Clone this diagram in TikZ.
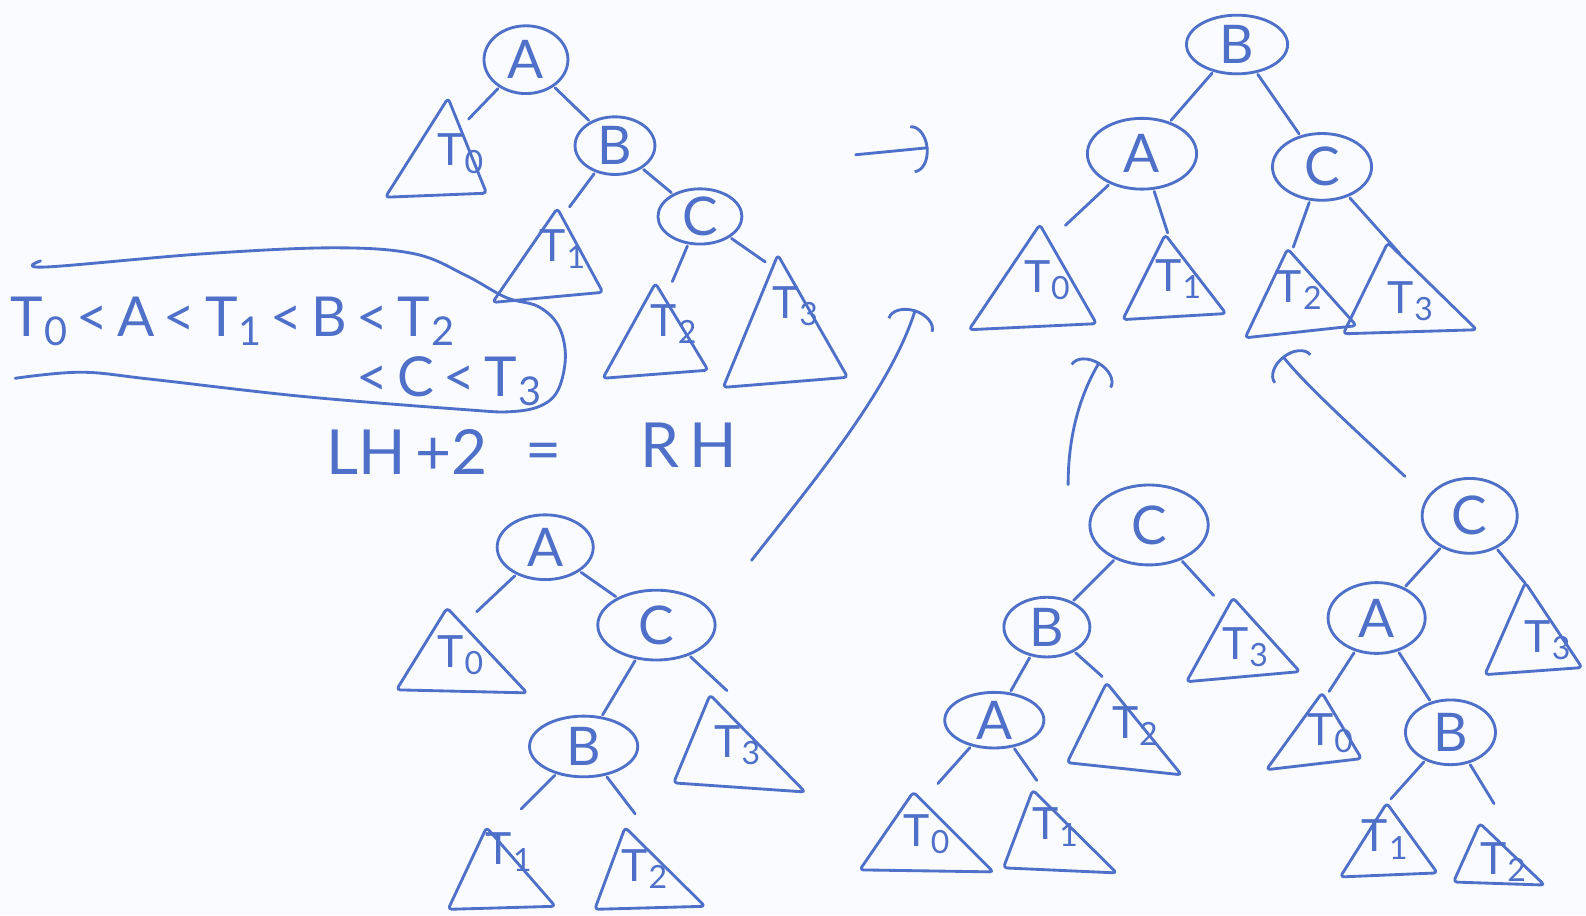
\documentclass[tikz,border=0pt]{standalone}
\usepackage{fontspec}
\usepackage{graphicx}
\setmainfont{Lato}
\usetikzlibrary{shapes.geometric,arrows.meta}
\definecolor{inkc}{RGB}{78,112,200}
\definecolor{paperc}{RGB}{250,251,254}
\newcommand\Tn[1]{T\kern0.02em\raisebox{-0.16em}{\scalebox{0.72}{#1}}}
\newcommand\mktri[6]{%
  \coordinate (#1) at #2;
  \draw[inkline,rounded corners=2pt] (#1) -- #3 -- #4 -- cycle;
  \node[tlab] (#1-l) at #5 {#6};}
\tikzset{
  inkline/.style={draw=inkc,line width=1.6pt,line cap=round,line join=round},
  ell/.style 2 args={ellipse,draw=inkc,line width=1.6pt,minimum width=#1*0.02cm,
    minimum height=#2*0.02cm,inner sep=0pt,font=\fontsize{30}{34}\selectfont,text=inkc},
  tlab/.style={font=\fontsize{25}{30}\selectfont,text=inkc,inner sep=0pt},
  big/.style={font=\fontsize{31}{36}\selectfont,text=inkc,inner sep=0pt},
  edge/.style={inkline,shorten <=1pt,shorten >=1pt},
  arr/.style={inkline,-{Arc Barb[length=0.32cm,width=0.95cm]}}
}
\begin{document}
\begin{tikzpicture}[x=0.02cm,y=-0.02cm]
\fill[paperc] (0,0) rectangle (1568,905);
\useasboundingbox (0,0) rectangle (1568,905);

% ---------- top-left tree ----------
\node[ell={83}{67}] (tlA) at (520,59) {A};
\node[ell={79}{57}] (tlB) at (608,144) {B};
\node[ell={83}{52}] (tlC) at (692,214) {C};
\mktri{tlT0}{(443,97)}{(381,195)}{(481,191)}{(455,152)}{\Tn0}
\mktri{tlT1}{(551,206)}{(487,299)}{(596,289)}{(556,246)}{\Tn1}
\mktri{tlT2}{(648,280)}{(596,374)}{(700,366)}{(666,320)}{\Tn2}
\mktri{tlT3}{(769,252)}{(715,383)}{(838,373)}{(786,303)}{\Tn3}
\coordinate (tle0) at (462,119);
\coordinate (tle1) at (562,206);
\coordinate (tle2) at (664,280);
\coordinate (tle3) at (758,260);
\draw[edge] (tlA) -- (tle0);
\draw[edge] (tlA) -- (tlB);
\draw[edge] (tlB) -- (tle1);
\draw[edge] (tlB) -- (tlC);
\draw[edge] (tlC) -- (tle2);
\draw[edge] (tlC) -- (tle3);

% ---------- inequality outline ----------
\draw[inkline] plot[smooth,tension=0.6] coordinates {(40,258) (45,264) (200,251) (330,245) (410,251) (460,272) (500,294) (532,303) (552,322) (559,352) (552,385) (535,401) (505,407) (460,405) (300,392) (150,375) (80,368) (15,374)};
\node[big,anchor=west] (ineq1) at (10,318) {\Tn0\,<\,A\,<\,\Tn1\,<\,B\,<\,\Tn2};
\node[big,anchor=west] (ineq2) at (352,377) {<\,C\,<\,\Tn3};
\node[big,anchor=west,font=\fontsize{35}{40}\selectfont] (lh) at (322,447) {LH\,+2};
\node[big,font=\fontsize{35}{40}\selectfont] (eq) at (537,452) {=};
\node[big,font=\fontsize{35}{40}\selectfont] (rh) at (681,440) {R\,H};

% ---------- arrow ----------
\coordinate (a1s) at (846,153);
\coordinate (a1e) at (918,146);
\draw[arr] (a1s) -- (a1e);

% ---------- top-right tree ----------
\node[ell={100}{58}] (trB) at (1223,44) {B};
\node[ell={108}{70}] (trA) at (1129,152) {A};
\node[ell={98}{66}] (trC) at (1307,165) {C};
\mktri{trT0}{(1028,222)}{(958,326)}{(1084,320)}{(1035,277)}{\Tn0}
\mktri{trT1}{(1152,232)}{(1110,316)}{(1212,310)}{(1165,276)}{\Tn1}
\mktri{trT2}{(1273,246)}{(1231,334)}{(1341,322)}{(1284,287)}{\Tn2}
\mktri{trT3}{(1372,240)}{(1328,330)}{(1460,326)}{(1394,298)}{\Tn3}
\coordinate (tre0) at (1052,224);
\coordinate (tre1) at (1155,232);
\coordinate (tre2) at (1278,246);
\coordinate (tre3) at (1385,252);
\draw[edge] (trB) -- (trA);
\draw[edge] (trB) -- (trC);
\draw[edge] (trA) -- (tre0);
\draw[edge] (trA) -- (tre1);
\draw[edge] (trC) -- (tre2);
\draw[edge] (trC) -- (tre3);

% ---------- bottom-left tree ----------
\node[ell={95}{64}] (blA) at (539,541) {A};
\node[ell={116}{69}] (blC) at (649,618) {C};
\node[ell={107}{60}] (blB) at (577,738) {B};
\mktri{blT0}{(442,601)}{(392,682)}{(521,685)}{(455,648)}{\Tn0}
\mktri{blT3}{(702,687)}{(666,774)}{(796,783)}{(729,737)}{\Tn3}
\mktri{blT1}{(481,818)}{(443,899)}{(549,896)}{(503,842)}{\Tn1}
\mktri{blT2}{(618,818)}{(588,899)}{(697,896)}{(637,859)}{\Tn2}
\coordinate (ble0) at (470,606);
\coordinate (ble3) at (720,684);
\coordinate (ble1) at (514,801);
\coordinate (ble2) at (629,806);
\draw[edge] (blA) -- (ble0);
\draw[edge] (blA) -- (blC);
\draw[edge] (blC) -- (blB);
\draw[edge] (blC) -- (ble3);
\draw[edge] (blB) -- (ble1);
\draw[edge] (blB) -- (ble2);

% ---------- bottom-middle tree ----------
\node[ell={117}{79}] (bmC) at (1136,519) {C};
\node[ell={85}{59}] (bmB) at (1035,620) {B};
\node[ell={98}{55}] (bmA) at (983,712) {A};
\mktri{bmT3}{(1219,591)}{(1173,674)}{(1285,664)}{(1231,640)}{\Tn3}
\mktri{bmT2}{(1094,675)}{(1055,754)}{(1168,766)}{(1122,718)}{\Tn2}
\mktri{bmT0}{(903,783)}{(850,860)}{(982,862)}{(916,825)}{\Tn0}
\mktri{bmT1}{(1021,781)}{(992,858)}{(1104,863)}{(1043,818)}{\Tn1}
\coordinate (bme3) at (1201,590);
\coordinate (bme2) at (1091,670);
\coordinate (bme0) at (926,776);
\coordinate (bme1) at (1026,773);
\draw[edge] (bmC) -- (bmB);
\draw[edge] (bmC) -- (bme3);
\draw[edge] (bmB) -- (bmA);
\draw[edge] (bmB) -- (bme2);
\draw[edge] (bmA) -- (bme0);
\draw[edge] (bmA) -- (bme1);

% ---------- bottom-right tree ----------
\node[ell={94}{74}] (brC) at (1453,510) {C};
\node[ell={96}{70}] (brA) at (1361,611) {A};
\node[ell={89}{64}] (brB) at (1434,724) {B};
\mktri{brT3}{(1508,576)}{(1468,667)}{(1564,660)}{(1530,633)}{\Tn3}
\mktri{brT0}{(1307,685)}{(1252,761)}{(1346,750)}{(1315,725)}{\Tn0}
\mktri{brT1}{(1371,794)}{(1325,867)}{(1421,863)}{(1369,830)}{\Tn1}
\mktri{brT2}{(1463,814)}{(1437,872)}{(1527,875)}{(1486,852)}{\Tn2}
\coordinate (bre3) at (1509,578);
\coordinate (bre0) at (1313,685);
\coordinate (bre1) at (1374,791);
\coordinate (bre2) at (1478,796);
\draw[edge] (brC) -- (brA);
\draw[edge] (brC) -- (bre3);
\draw[edge] (brA) -- (bre0);
\draw[edge] (brA) -- (brB);
\draw[edge] (brB) -- (bre1);
\draw[edge] (brB) -- (bre2);

% ---------- arrows to the result ----------
\coordinate (a2s) at (743,554);
\coordinate (a2e) at (905,306);
\draw[arr] (a2s) .. controls (805,475) and (880,385) .. (a2e);
\coordinate (a3s) at (1056,479);
\coordinate (a3e) at (1087,358);
\draw[arr] (a3s) .. controls (1056,430) and (1068,390) .. (a3e);
\coordinate (a4s) at (1389,471);
\coordinate (a4e) at (1268,352);
\draw[arr] (a4s) .. controls (1345,430) and (1290,380) .. (a4e);
\end{tikzpicture}
\end{document}
